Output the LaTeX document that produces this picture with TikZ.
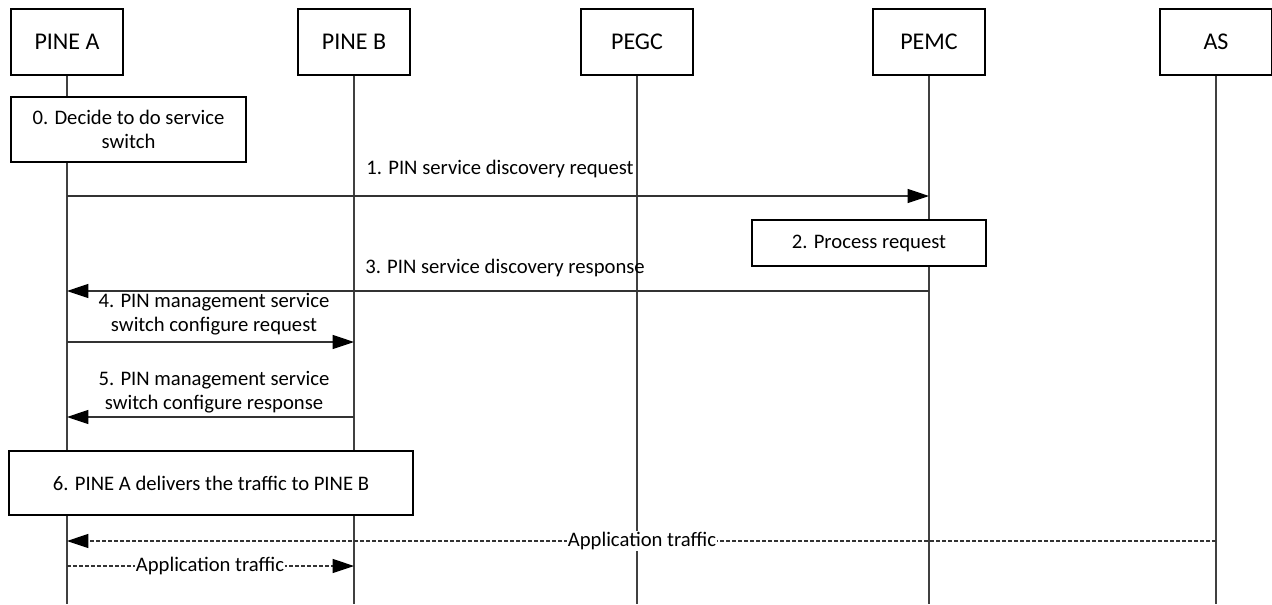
\documentclass[tikz,border=0pt]{standalone}
\usepackage{fontspec}
\setmainfont{Carlito}
\usepackage{tikz}
\usetikzlibrary{positioning,arrows.meta,calc}

\begin{document}
\begin{tikzpicture}[
    x=0.75pt, y=-0.75pt,
    font=\fontsize{15.5}{18}\selectfont,
    entity/.style={rectangle, draw, line width=1.1pt, minimum width=84pt, minimum height=49.5pt, inner sep=0pt, font=\fontsize{18}{20}\selectfont},
    stepbox/.style={rectangle, draw, line width=1.1pt, inner sep=0pt, align=center},
    lifeline/.style={draw=black!75, line width=0.8pt},
    msg/.style={-{Triangle[length=16pt,width=10.5pt,black]}, draw=black!80, line width=0.8pt},
    traffic/.style={msg, dash pattern=on 3pt off 1.5pt},
    lbl/.style={inner sep=1pt, align=center}
]
\useasboundingbox (0,0) rectangle (1272,604);

% entities
\node[entity] (pinea) at (67,42) {PINE A};
\node[entity] (pineb) at (354,42) {PINE B};
\node[entity] (pegc) at (637,42) {PEGC};
\node[entity] (pemc) at (929,42) {PEMC};
\node[entity] (as) at (1216,42) {AS};

% lifelines
\foreach \e/\x in {pinea/67,pineb/354,pegc/637,pemc/929,as/1216} {
  \coordinate (\e-end) at (\x,604);
  \draw[lifeline] (\e) -- (\e-end);
}

% steps
\node[stepbox, fill=white, minimum width=176pt, minimum height=48.75pt] (decide) at (128.5,129.5) {0. Decide to do service\\switch};
\node[stepbox, fill=white, minimum width=175.5pt, minimum height=34.5pt] (process) at (869,243) {2. Process request};
\node[stepbox, fill=white, minimum width=303pt, minimum height=48pt] (deliver) at (211,483) {6. PINE A delivers the traffic to PINE B};

% message end points
\coordinate (m1a) at (67,196);  \coordinate (m1b) at (929,196);
\coordinate (m3a) at (929,291); \coordinate (m3b) at (67,291);
\coordinate (m4a) at (67,342);  \coordinate (m4b) at (354,342);
\coordinate (m5a) at (354,417); \coordinate (m5b) at (67,417);
\coordinate (t1a) at (1216,541); \coordinate (t1b) at (67,541);
\coordinate (t2a) at (67,566);  \coordinate (t2b) at (354,566);

% messages
\draw[msg] (m1a) -- (m1b);
\node[lbl] (l1) at (500,169) {1. PIN service discovery request};
\draw[msg] (m3a) -- (m3b);
\node[lbl] (l3) at (505,268) {3. PIN service discovery response};
\draw[msg] (m4a) -- (m4b);
\node[lbl] (l4) at (214,314) {4. PIN management service\\switch configure request};
\draw[msg] (m5a) -- (m5b);
\node[lbl] (l5) at (214,392) {5. PIN management service\\switch configure response};

% application traffic
\draw[traffic] (t1a) -- (t1b);
\node[lbl, fill=white] (l6) at (642,541) {Application traffic};
\draw[traffic] (t2a) -- (t2b);
\node[lbl, fill=white] (l7) at (210,566) {Application traffic};

\end{tikzpicture}
\end{document}
